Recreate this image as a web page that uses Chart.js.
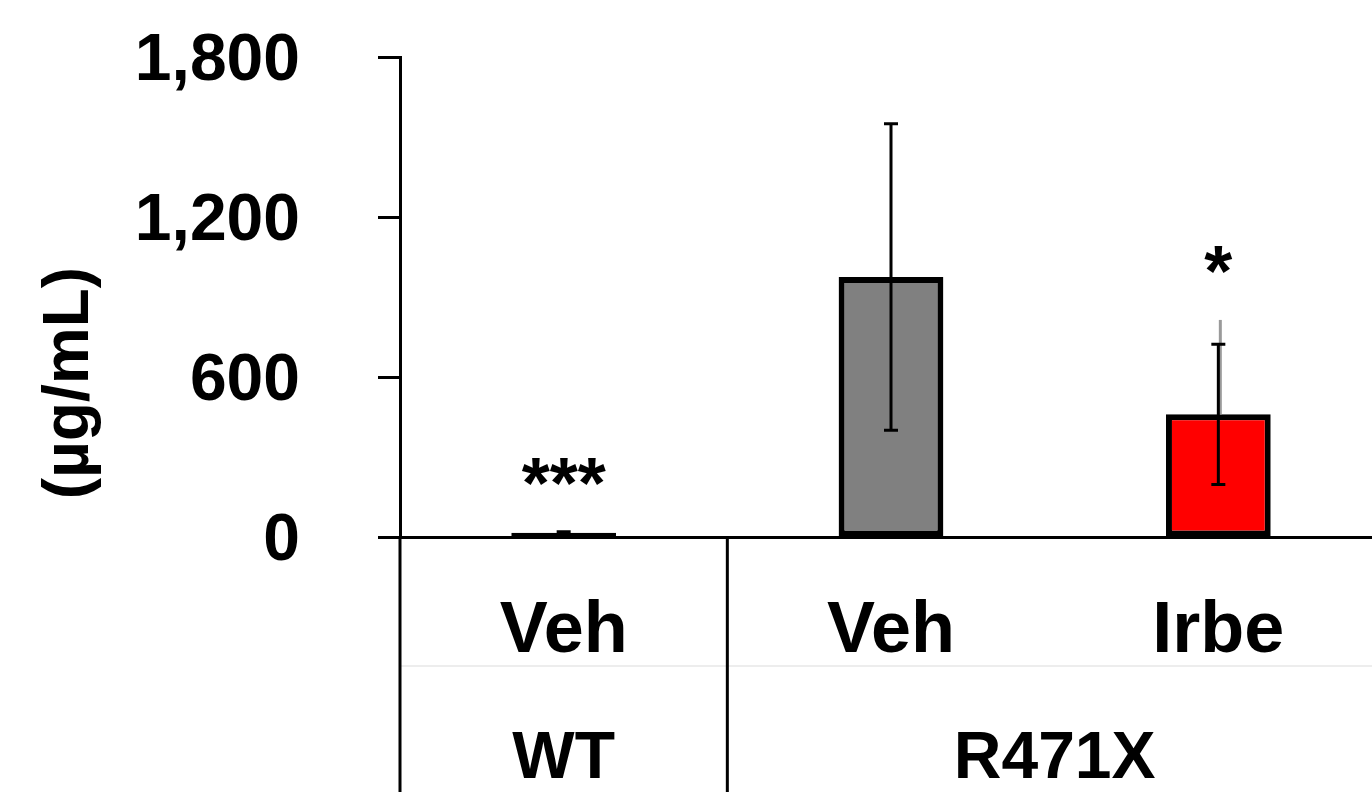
<!DOCTYPE html>
<html>
<head>
<meta charset="utf-8">
<script src="https://cdn.jsdelivr.net/npm/chart.js@4.4.0/dist/chart.umd.min.js"></script>
<style>
  html, body { margin: 0; padding: 0; background: #fff; overflow: hidden; }
  #wrap { width: 1382px; height: 792px; position: relative; }
</style>
</head>
<body>
<div id="wrap"><canvas id="c" width="1382" height="792"></canvas></div>
<script>
// ---- data ----
const categories = ['Veh', 'Veh', 'Irbe'];
const groups = ['WT', 'R471X'];
const groupSpans = [[0, 0], [1, 2]];
const values = [16, 975, 460];
const errors = [4, 575, 263];
const grayErrorsUp = [null, null, 354];
const barColors = ['#000000', '#808080', '#ff0000'];
const significance = ['***', '', '*'];
const yTicks = [0, 600, 1200, 1800];
const yTitle = '(µg/mL)';

const FONT = "'Liberation Sans', Arial, sans-serif";

const extras = {
  id: 'extras',
  afterDatasetsDraw(chart) {
    const ctx = chart.ctx;
    const y = chart.scales.y;
    const meta = chart.getDatasetMeta(0);
    ctx.save();
    // gray extra error lines
    meta.data.forEach((bar, i) => {
      if (grayErrorsUp[i] == null) return;
      ctx.strokeStyle = '#9a9a9a';
      ctx.lineWidth = 3;
      ctx.beginPath();
      ctx.moveTo(bar.x + 2, y.getPixelForValue(values[i]));
      ctx.lineTo(bar.x + 2, y.getPixelForValue(values[i] + grayErrorsUp[i]));
      ctx.stroke();
    });
    // error bars
    meta.data.forEach((bar, i) => {
      const top = y.getPixelForValue(values[i] + errors[i]);
      const bot = y.getPixelForValue(values[i] - errors[i]);
      ctx.strokeStyle = '#000';
      ctx.lineWidth = 3;
      ctx.beginPath();
      ctx.moveTo(bar.x, top); ctx.lineTo(bar.x, bot);
      ctx.moveTo(bar.x - 7, top); ctx.lineTo(bar.x + 7, top);
      ctx.moveTo(bar.x - 7, bot); ctx.lineTo(bar.x + 7, bot);
      ctx.stroke();
    });
    // significance stars
    ctx.fillStyle = '#000';
    ctx.font = 'bold 72px ' + FONT;
    ctx.textAlign = 'center';
    ctx.textBaseline = 'middle';
    meta.data.forEach((bar, i) => {
      if (!significance[i]) return;
      const hi = Math.max(values[i] + errors[i], grayErrorsUp[i] != null ? values[i] + grayErrorsUp[i] : 0);
      ctx.fillText(significance[i], bar.x, y.getPixelForValue(hi) - 44);
    });
    ctx.restore();
  },
  afterDraw(chart) {
    const ctx = chart.ctx;
    const x = chart.scales.x, y = chart.scales.y, ca = chart.chartArea;
    ctx.save();
    // y tick marks
    ctx.strokeStyle = '#000';
    ctx.lineWidth = 3;
    ctx.beginPath();
    y.ticks.forEach(t => {
      const py = Math.round(y.getPixelForValue(t.value)) + 0.5;
      ctx.moveTo(ca.left - 22, py); ctx.lineTo(ca.left, py);
    });
    ctx.stroke();
    // faint table line
    ctx.strokeStyle = 'rgba(0,0,0,0.07)';
    ctx.lineWidth = 2;
    ctx.beginPath();
    ctx.moveTo(ca.left, 666); ctx.lineTo(chart.width, 666);
    ctx.stroke();
    // table vertical lines
    ctx.strokeStyle = '#000';
    ctx.lineWidth = 3;
    ctx.beginPath();
    ctx.moveTo(ca.left, ca.bottom); ctx.lineTo(ca.left, chart.height);
    const div = (x.getPixelForValue(0) + x.getPixelForValue(1)) / 2;
    ctx.moveTo(div, ca.bottom); ctx.lineTo(div, chart.height);
    ctx.stroke();
    // group labels
    ctx.fillStyle = '#000';
    ctx.font = 'bold 66px ' + FONT;
    ctx.textAlign = 'center';
    ctx.textBaseline = 'middle';
    groups.forEach((g, gi) => {
      const [a, b] = groupSpans[gi];
      const cx = (x.getPixelForValue(a) + x.getPixelForValue(b)) / 2;
      ctx.fillText(g, cx, 760);
    });
    // y title
    ctx.font = 'bold 64px ' + FONT;
    ctx.translate(70, 383);
    ctx.rotate(-Math.PI / 2);
    ctx.fillText(yTitle, 0, 0);
    ctx.restore();
  }
};

new Chart(document.getElementById('c'), {
  type: 'bar',
  data: {
    labels: categories,
    datasets: [{
      data: values,
      backgroundColor: barColors,
      borderColor: '#000',
      borderWidth: 6,
      borderSkipped: false,
      categoryPercentage: 1,
      barPercentage: 0.32
    }]
  },
  options: {
    responsive: false,
    animation: false,
    devicePixelRatio: 1,
    layout: { padding: { top: 57, right: 0, left: 0, bottom: 0 } },
    plugins: { legend: { display: false }, tooltip: { enabled: false } },
    scales: {
      x: {
        offset: true,
        grid: { display: false, drawTicks: false },
        border: { display: true, color: '#000', width: 3 },
        ticks: { color: '#000', font: { family: FONT, weight: 'bold', size: 72 }, padding: 52, maxRotation: 0, autoSkip: false },
        afterFit: s => { s.height = 255; }
      },
      y: {
        min: 0, max: 1800,
        afterBuildTicks: s => { s.ticks = yTicks.map(v => ({ value: v })); },
        grid: { drawOnChartArea: false, drawTicks: true, tickLength: 100, tickWidth: 3, tickColor: 'rgba(0,0,0,0)', color: '#000' },
        border: { display: true, color: '#000', width: 3 },
        ticks: {
          color: '#000', padding: 0, labelOffset: 5,
          font: { family: FONT, weight: 'bold', size: 66 },
          callback: v => v.toLocaleString('en-US')
        },
        afterFit: s => { s.width = 400; }
      }
    }
  },
  plugins: [extras]
});
</script>
</body>
</html>
